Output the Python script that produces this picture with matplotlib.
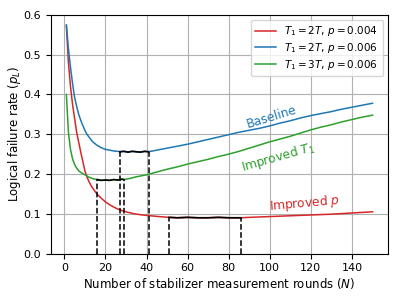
import matplotlib
matplotlib.use("Agg")
import matplotlib.pyplot as plt
import numpy as np

# Series: T1 = 2T, p = 0.004 (red)
red_N = [1, 2, 3, 4, 5, 6, 7, 8, 9, 10, 11, 12, 13, 14, 15, 16, 17, 18, 20, 22, 24, 26, 28, 30,
         34, 38, 42, 46, 51, 55, 60, 65, 70, 75, 80, 86, 90, 100, 110, 120, 130, 140, 150]
red_p = [0.572, 0.48, 0.42, 0.375, 0.34, 0.305, 0.28, 0.255, 0.232, 0.208, 0.193, 0.181, 0.171,
         0.163, 0.156, 0.149, 0.144, 0.139, 0.130, 0.123, 0.117, 0.112, 0.108, 0.105,
         0.100, 0.097, 0.095, 0.093, 0.091, 0.090, 0.091, 0.090, 0.090, 0.091, 0.090, 0.090,
         0.091, 0.093, 0.095, 0.097, 0.099, 0.102, 0.105]

# Series: T1 = 2T, p = 0.006 (blue)
blue_N = [1, 2, 3, 4, 5, 6, 7, 8, 9, 10, 11, 12, 13, 14, 16, 18, 20, 22, 24, 26, 27, 29, 31, 33,
          35, 37, 39, 41, 45, 50, 55, 60, 65, 70, 75, 80, 85, 90, 95, 100, 105, 110, 115, 120,
          125, 130, 135, 140, 145, 150]
blue_p = [0.575, 0.515, 0.468, 0.428, 0.393, 0.370, 0.350, 0.335, 0.322, 0.310, 0.300, 0.293,
          0.286, 0.280, 0.272, 0.266, 0.262, 0.260, 0.258, 0.257, 0.256, 0.257, 0.255, 0.257,
          0.256, 0.255, 0.257, 0.256, 0.260, 0.265, 0.270, 0.275, 0.281, 0.287, 0.293, 0.299,
          0.305, 0.310, 0.315, 0.321, 0.328, 0.334, 0.341, 0.347, 0.352, 0.357, 0.363, 0.368,
          0.373, 0.378]

# Series: T1 = 3T, p = 0.006 (green)
green_N = [1, 2, 3, 4, 5, 6, 7, 8, 9, 10, 11, 12, 13, 14, 15, 16, 18, 20, 22, 24, 26, 28, 29,
           32, 35, 40, 45, 50, 55, 60, 65, 70, 75, 80, 85, 90, 95, 100, 105, 110, 115, 120,
           125, 130, 135, 140, 145, 150]
green_p = [0.40, 0.305, 0.262, 0.238, 0.224, 0.215, 0.208, 0.204, 0.201, 0.198, 0.195, 0.192,
           0.190, 0.188, 0.187, 0.186, 0.184, 0.185, 0.184, 0.186, 0.185, 0.187, 0.186,
           0.189, 0.193, 0.198, 0.205, 0.212, 0.218, 0.225, 0.231, 0.237, 0.244, 0.250,
           0.257, 0.265, 0.273, 0.281, 0.288, 0.295, 0.303, 0.311, 0.318, 0.324, 0.331,
           0.337, 0.343, 0.348]

labels = [r"$T_1 = 2T$, $p = 0.004$", r"$T_1 = 2T$, $p = 0.006$", r"$T_1 = 3T$, $p = 0.006$"]
colors = ["#d62728", "#1f77b4", "#2ca02c"]

# Near-optimal windows (start, end) for each series
red_window = (51, 86)
blue_window = (27, 41)
green_window = (16, 29)

annotations = ["Improved $p$", "Baseline", "Improved $T_1$"]
ann_pos = [(117, 0.125, 5), (101, 0.343, 17), (104, 0.243, 16)]

fig = plt.figure(figsize=(3.99, 2.99), dpi=100)
ax = fig.add_axes([0.128, 0.152, 0.844, 0.798])

series = [(red_N, red_p, red_window), (blue_N, blue_p, blue_window), (green_N, green_p, green_window)]
for (N, p, win), lab, c in zip(series, labels, colors):
    N = np.array(N, dtype=float)
    p = np.array(p)
    ax.plot(N, p, color=c, lw=1.1, label=lab, zorder=3)

for (N, p, win), c in zip(series, colors):
    N = np.array(N, dtype=float)
    p = np.array(p)
    m = (N >= win[0]) & (N <= win[1])
    ax.plot(N[m], p[m], color="black", lw=1.2, zorder=4)
    for w in win:
        ax.plot([w, w], [0, np.interp(w, N, p)], color="black", ls="--", lw=1.1, zorder=4)

for txt, (x, y, rot), c in zip(annotations, ann_pos, colors):
    ax.text(x, y, txt, color=c, fontsize=8.8, rotation=rot, ha="center", va="center")

ax.set_ylim(0, 0.6)
ax.set_xlim(-6.45, 157.45)
ax.set_xticks([0, 20, 40, 60, 80, 100, 120, 140])
ax.set_yticks([0.0, 0.1, 0.2, 0.3, 0.4, 0.5, 0.6])
ax.tick_params(labelsize=8)
ax.grid(True, color="#b0b0b0", lw=0.8)
ax.set_axisbelow(True)
ax.set_xlabel(r"Number of stabilizer measurement rounds ($N$)", fontsize=8.5, labelpad=2)
ax.set_ylabel(r"Logical failure rate ($p_L$)", fontsize=8.5)
ax.yaxis.set_label_coords(-0.083, 0.5)
ax.legend(loc="upper right", fontsize=7.5, handlelength=2.0, labelspacing=0.25)

fig.savefig("out.png", dpi=100)
